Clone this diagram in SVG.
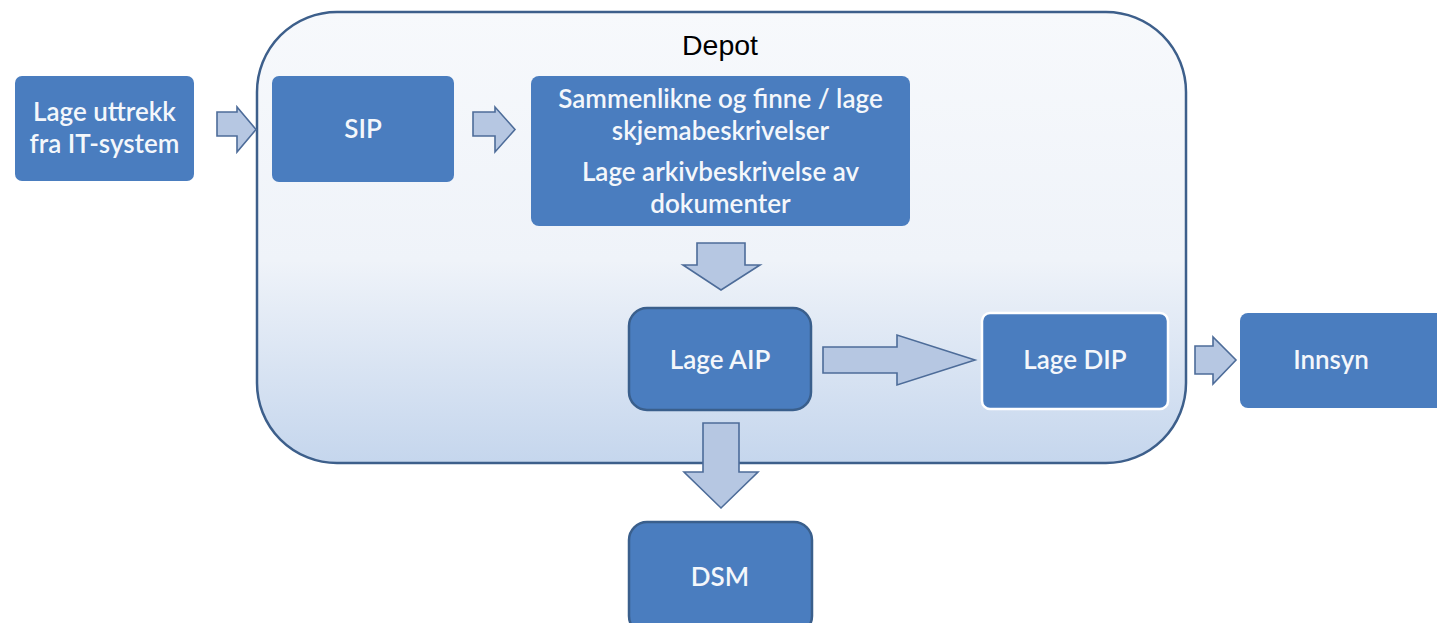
<svg xmlns="http://www.w3.org/2000/svg" width="1437" height="623" viewBox="0 0 1437 623">
<defs>
<linearGradient id="depotGrad" x1="0" y1="0" x2="0" y2="1">
<stop offset="0" stop-color="#f7f9fc"/>
<stop offset="0.55" stop-color="#eff3f9"/>
<stop offset="1" stop-color="#c5d6ed"/>
</linearGradient>
<style>
.box{fill:#4a7dbf;}
.boxs{fill:#4a7dbf;stroke:#3a5f8c;stroke-width:2.5;}
.lbl{font-family:Lato,"Open Sans","Liberation Sans",sans-serif;font-size:26px;font-weight:600;fill:#f4f7fb;text-anchor:middle;}
.arr{fill:#b6c7e2;stroke:#4d6c99;stroke-width:1.6;stroke-linejoin:miter;}
</style>
</defs>
<rect width="1437" height="623" fill="#ffffff"/>
<g id="depot">
<rect x="257" y="12" width="929" height="451" rx="80" ry="80" fill="url(#depotGrad)" stroke="#3d5f8b" stroke-width="2.5"/>
<text x="720" y="55" font-family="'Liberation Sans',Arial,sans-serif" font-size="28.5" fill="#000" text-anchor="middle">Depot</text>
</g>
<g id="connectors">
<polygon class="arr" points="217,112 237,112 237,107 256,129.5 237,152 237,136 217,136"/>
<polygon class="arr" points="473,112 495,112 495,107 515,129.5 495,152 495,136 473,136"/>
<polygon class="arr" points="697,243 745,243 745,265 760,265 721,290 683,265 697,265"/>
<polygon class="arr" points="823,347 897,347 897,335 975,360 897,385 897,373 823,373"/>
<polygon class="arr" points="1195,346 1213,346 1213,337 1236,360 1213,384 1213,374 1195,374"/>
<polygon class="arr" points="703,423 739,423 739,472 758,472 721,508 684,472 703,472"/>
</g>
<g id="node-uttrekk">
<rect class="box" x="15" y="76" width="179" height="105" rx="7"/>
<text class="lbl" x="104.5" y="121">Lage uttrekk</text>
<text class="lbl" x="104.5" y="153">fra IT-system</text>
</g>
<g id="node-sip">
<rect class="box" x="272" y="76" width="182" height="106" rx="7"/>
<text class="lbl" x="363" y="138">SIP</text>
</g>
<g id="node-sammenlikne">
<rect class="box" x="531" y="76" width="379" height="150" rx="8"/>
<text class="lbl" x="720.5" y="108">Sammenlikne og finne / lage</text>
<text class="lbl" x="720.5" y="140">skjemabeskrivelser</text>
<text class="lbl" x="720.5" y="181">Lage arkivbeskrivelse av</text>
<text class="lbl" x="720.5" y="213">dokumenter</text>
</g>
<g id="node-aip">
<rect class="boxs" x="629" y="308" width="182" height="102" rx="18"/>
<text class="lbl" x="720" y="369">Lage AIP</text>
</g>
<g id="node-dip">
<rect class="box" x="982" y="313" width="186" height="96" rx="8" stroke="#ffffff" stroke-width="2.5"/>
<text class="lbl" x="1075" y="369">Lage DIP</text>
</g>
<g id="node-innsyn">
<rect class="box" x="1240" y="313" width="205" height="95" rx="8"/>
<text class="lbl" x="1331" y="369">Innsyn</text>
</g>
<g id="node-dsm">
<rect class="boxs" x="629" y="522" width="183" height="112" rx="18"/>
<text class="lbl" x="720" y="586">DSM</text>
</g>
</svg>
